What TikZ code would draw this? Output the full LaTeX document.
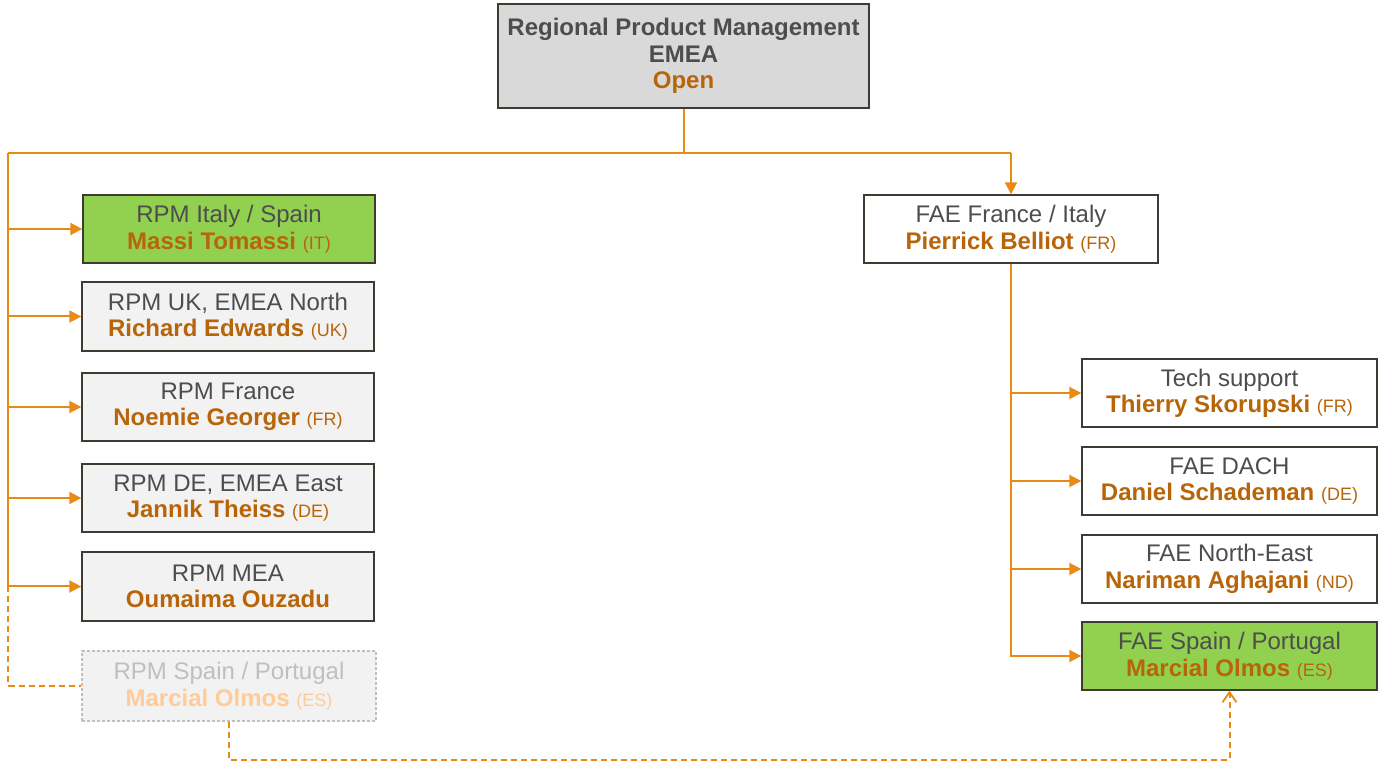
\documentclass[tikz,border=0pt]{standalone}
\usepackage{fontspec}
\setmainfont{Liberation Sans}
\usetikzlibrary{arrows.meta}
\definecolor{ora}{HTML}{EA8A16}
\definecolor{nm}{HTML}{B8650A}
\definecolor{tx}{HTML}{4D4D4D}
\definecolor{bd}{HTML}{3F3B33}
\definecolor{grn}{HTML}{92D050}
\definecolor{lg}{HTML}{F2F2F2}
\definecolor{tg}{HTML}{D9D9D9}
\definecolor{fadetx}{HTML}{BFBFBF}
\definecolor{fadenm}{HTML}{FFCC99}
\newcommand{\cc}[1]{{\fontsize{9}{10}\selectfont\mdseries #1}}
\begin{document}
\begin{tikzpicture}[x=0.5pt,y=-0.5pt,
  box/.style={draw=bd,line width=0.7pt,inner sep=0pt,align=center,font=\fontsize{12}{13.2}\selectfont,text=tx},
  gbox/.style={box,fill=lg},
  line/.style={draw=ora,line width=1pt},
  arr/.style={line,-{Triangle[length=6pt,width=6pt]}},
  dsh/.style={line,dash pattern=on 3pt off 2pt},
  dsharr/.style={dsh,-{Straight Barb[length=5pt,width=7pt,line width=0.9pt]}}]
\useasboundingbox (0,0) rectangle (1383,769);
\node[box,fill=tg,minimum width=185.5pt,minimum height=52pt] (top) at (683.5,56)
  {\bfseries Regional Product Management\\\bfseries EMEA\\\bfseries\color{nm}Open};
\node[box,fill=grn,minimum width=146pt,minimum height=34pt] (it) at (229,229)
  {RPM Italy / Spain\\{\bfseries\color{nm}Massi Tomassi} \color{nm}\cc{(IT)}};
\node[gbox,minimum width=146pt,minimum height=34.5pt] (uk) at (228,316.5)
  {RPM UK, EMEA North\\{\bfseries\color{nm}Richard Edwards} \color{nm}\cc{(UK)}};
\node[gbox,minimum width=146pt,minimum height=34pt] (fr) at (228,407)
  {RPM France\\{\bfseries\color{nm}Noemie Georger} \color{nm}\cc{(FR)}};
\node[gbox,minimum width=146pt,minimum height=34pt] (de) at (228,498)
  {RPM DE, EMEA East\\{\bfseries\color{nm}Jannik Theiss} \color{nm}\cc{(DE)}};
\node[gbox,minimum width=146pt,minimum height=34.5pt] (mea) at (228,586.5)
  {RPM MEA\\{\bfseries\color{nm}Oumaima Ouzadu}};
\node[box,draw=fadetx,dash pattern=on 1.5pt off 1pt,fill=lg,text=fadetx,minimum width=147pt,minimum height=35pt] (rsp) at (229,686)
  {RPM Spain / Portugal\\{\bfseries\color{fadenm}Marcial Olmos} \color{fadenm}\cc{(ES)}};
\node[box,fill=white,minimum width=147pt,minimum height=34pt] (fae) at (1011,229)
  {FAE France / Italy\\{\bfseries\color{nm}Pierrick Belliot} \color{nm}\cc{(FR)}};
\node[box,fill=white,minimum width=147.5pt,minimum height=34pt] (ts) at (1229.5,393)
  {Tech support\\{\bfseries\color{nm}Thierry Skorupski} \color{nm}\cc{(FR)}};
\node[box,fill=white,minimum width=147.5pt,minimum height=34pt] (dach) at (1229.5,481)
  {FAE DACH\\{\bfseries\color{nm}Daniel Schademan} \color{nm}\cc{(DE)}};
\node[box,fill=white,minimum width=147.5pt,minimum height=34pt] (ne) at (1229.5,569)
  {FAE North-East\\{\bfseries\color{nm}Nariman Aghajani} \color{nm}\cc{(ND)}};
\node[box,fill=grn,minimum width=147.5pt,minimum height=34pt] (fsp) at (1229.5,656)
  {FAE Spain / Portugal\\{\bfseries\color{nm}Marcial Olmos} \color{nm}\cc{(ES)}};
\coordinate (L) at (8,153);
\coordinate (R) at (1011,153);
\draw[line] (top.south) -- (top.south |- L);
\draw[line] (L) -- (R);
\draw[arr] (R) -- (fae.north);
\foreach \n in {it,uk,fr,de,mea} \draw[arr] (L) |- (\n.west);
\draw[dsh] (L |- mea.west) |- (rsp.west);
\draw[dsharr] (rsp.south) -- ++(0,38) coordinate (B) -| (fsp.south);
\foreach \n in {ts,dach,ne,fsp} \draw[arr] (fae.south) |- (\n.west);
\end{tikzpicture}
\end{document}
